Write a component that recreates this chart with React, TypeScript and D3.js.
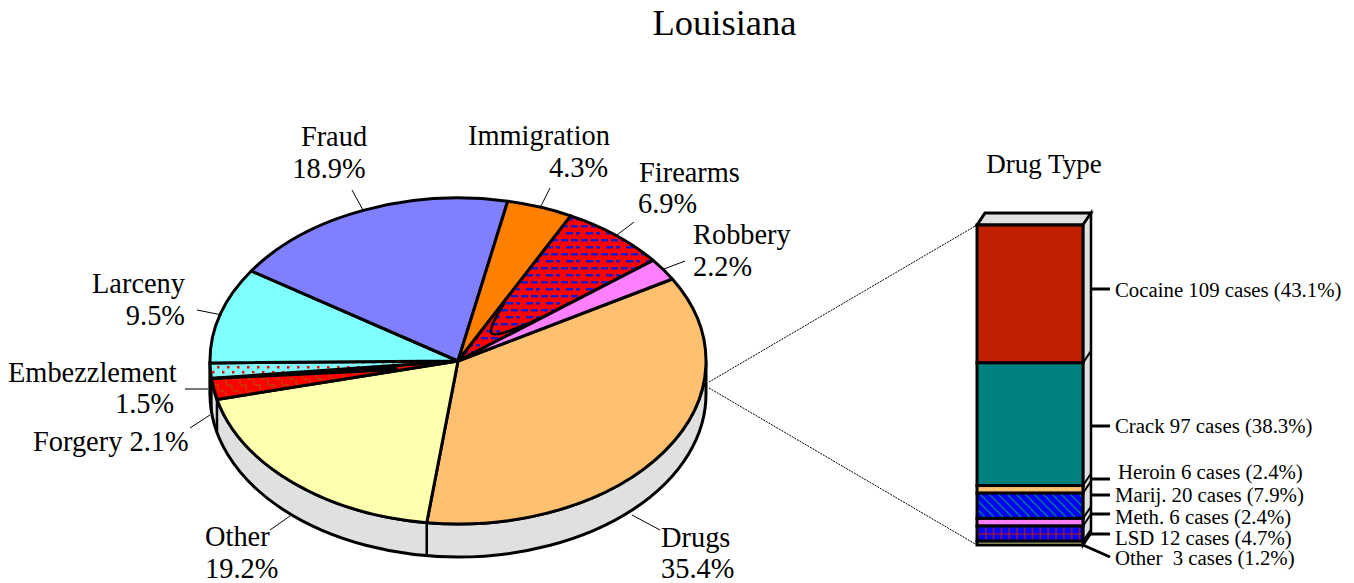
import { useEffect, useRef } from "react"
import * as d3 from "d3"

const offenses = ["Drugs", "Other", "Forgery", "Embezzlement", "Larceny", "Fraud", "Immigration", "Firearms", "Robbery"]
const offensePct = [35.4, 19.2, 2.1, 1.5, 9.5, 18.9, 4.3, 6.9, 2.2]
const offenseFill = ["#ffc06f", "#ffffb0", "url(#brickRed)", "url(#dots)", "#80ffff", "#8080ff", "#ff8000", "url(#brickBlue)", "#ff80ff"]

const drugNames = ["Cocaine", "Crack", "Heroin", "Marij.", "Meth.", "LSD", "Other"]
const drugCases = [109, 97, 6, 20, 6, 12, 3]
const drugPct = ["43.1", "38.3", "2.4", "7.9", "2.4", "4.7", "1.2"]
const drugFill = ["#c02000", "#008080", "#ffc06f", "url(#diag)", "#ff80ff", "url(#grid)", "#ffffb0"]
const drugLabelX = [1115, 1115, 1118, 1115, 1115, 1115, 1115]
const drugLabelY = [297, 433, 479, 502, 524, 545, 565]
const drugLeaderY = [289, 426, 479, 495, 514, 534, 557]

// label text, anchor, x, baseline y
const pieLabels: Array<[string, string, number, number]> = [
  ["Fraud", "middle", 334, 146],
  ["18.9%", "middle", 329, 178],
  ["Immigration", "start", 468, 145],
  ["4.3%", "start", 549, 177],
  ["Firearms", "start", 639, 182],
  ["6.9%", "start", 638, 213],
  ["Robbery", "start", 693, 244],
  ["2.2%", "start", 693, 276],
  ["Larceny", "end", 185, 293],
  ["9.5%", "end", 185, 325],
  ["Embezzlement", "start", 8, 382],
  ["1.5%", "start", 115, 413],
  ["Forgery 2.1%", "start", 33, 451],
  ["Other", "start", 205, 546],
  ["19.2%", "start", 205, 578],
  ["Drugs", "start", 661, 547],
  ["35.4%", "start", 661, 578],
]

const pieLeaders = [
  [363, 210, 352, 190],
  [541, 206, 550, 188],
  [617, 235, 634, 222],
  [664, 269, 685, 261],
  [222, 315, 197, 310],
  [210, 415, 190, 428],
  [290, 516, 270, 530],
  [632, 515, 660, 530],
]

export default function App() {
  const svgRef = useRef<SVGSVGElement>(null)

  useEffect(() => {
    if (!svgRef.current) return

    const width = 1354
    const height = 583
    const cx = 458
    const cy = 361
    const rx = 248
    const ry = 163
    const depth = 33

    const svg = d3.select(svgRef.current).attr("width", width).attr("height", height)
    svg.selectAll("*").remove()

    const defs = svg.append("defs")

    const brickBlue = defs.append("pattern").attr("id", "brickBlue").attr("patternUnits", "userSpaceOnUse").attr("width", 20).attr("height", 14)
    brickBlue.append("rect").attr("width", 20).attr("height", 14).attr("fill", "#ff0000")
    ;[[1, 1], [11, 1], [6, 8], [16, 8]].forEach((p) => {
      brickBlue.append("rect").attr("x", p[0]).attr("y", p[1]).attr("width", 7).attr("height", 2.5).attr("fill", "#1a1ac8")
    })

    const brickRed = defs.append("pattern").attr("id", "brickRed").attr("patternUnits", "userSpaceOnUse").attr("width", 14).attr("height", 12)
    brickRed.append("rect").attr("width", 14).attr("height", 12).attr("fill", "#ff0000")
    brickRed.append("path").attr("d", "M2,1H8V6M9,7H14M2,7V12").attr("fill", "none").attr("stroke", "#c04000").attr("stroke-width", 1.5)

    const dots = defs.append("pattern").attr("id", "dots").attr("patternUnits", "userSpaceOnUse").attr("width", 10).attr("height", 10)
    dots.append("rect").attr("width", 10).attr("height", 10).attr("fill", "#80ffff")
    dots.append("rect").attr("x", 2).attr("y", 1).attr("width", 2.5).attr("height", 2.5).attr("fill", "#ff0000")
    dots.append("rect").attr("x", 7).attr("y", 6).attr("width", 2.5).attr("height", 2.5).attr("fill", "#ff0000")

    const diag = defs.append("pattern").attr("id", "diag").attr("patternUnits", "userSpaceOnUse").attr("width", 9).attr("height", 9)
    diag.append("rect").attr("width", 9).attr("height", 9).attr("fill", "#0000ff")
    diag.append("path").attr("d", "M0,0L9,9M-3,6L3,12M6,-3L12,3").attr("stroke", "#008080").attr("stroke-width", 1.3)

    const grid = defs.append("pattern").attr("id", "grid").attr("patternUnits", "userSpaceOnUse").attr("width", 7.8).attr("height", 9).attr("y", 530)
    grid.append("rect").attr("width", 7.8).attr("height", 9).attr("fill", "#0000ff")
    grid.append("path").attr("d", "M3,0V9M0,4H7.8").attr("stroke", "#c02000").attr("stroke-width", 1.2)

    const font = "'Liberation Serif', 'Times New Roman', serif"

    svg.append("text").attr("x", 724.5).attr("y", 35).attr("text-anchor", "middle").attr("font-family", font).attr("font-size", 36.5).text("Louisiana")

    // pie, clockwise from 12 o'clock. The printed shares add up to 100.2
    const start = (59.8 * Math.PI) / 180
    const pie = d3.pie<number>().sort(null).startAngle(start).endAngle(start + 2 * Math.PI * 1.002)
    const arcs = pie(offensePct)
    const px = (a: number) => cx + rx * Math.sin(a)
    const py = (a: number) => cy - ry * Math.cos(a)

    // side wall
    svg
      .append("path")
      .attr("d", `M${cx + rx},${cy}A${rx},${ry} 0 0 1 ${cx - rx},${cy}V${cy + depth}A${rx},${ry} 0 0 0 ${cx + rx},${cy + depth}Z`)
      .attr("fill", "#e0e0e0")
      .attr("stroke", "black")
      .attr("stroke-width", 3)

    arcs.forEach((d) => {
      const a = d.endAngle % (2 * Math.PI)
      if (a > Math.PI / 2 && a < (3 * Math.PI) / 2) {
        svg.append("line").attr("x1", px(a)).attr("y1", py(a)).attr("x2", px(a)).attr("y2", py(a) + depth).attr("stroke", "black").attr("stroke-width", 2.5)
      }
    })

    svg
      .append("g")
      .selectAll("path")
      .data(arcs)
      .enter()
      .append("path")
      .attr("d", (d) => {
        const large = d.endAngle - d.startAngle > Math.PI ? 1 : 0
        return `M${cx},${cy}L${px(d.startAngle)},${py(d.startAngle)}A${rx},${ry} 0 ${large} 1 ${px(d.endAngle)},${py(d.endAngle)}Z`
      })
      .attr("fill", (d, i) => offenseFill[i])
      .attr("stroke", "black")
      .attr("stroke-width", 3)
      .attr("stroke-linejoin", "round")
      .append("title")
      .text((d, i) => offenses[i])

    // stray callout loops drawn over the thin slices
    const curve = d3.line().curve(d3.curveBasis)
    svg
      .append("path")
      .attr("d", curve([[505, 302], [494, 320], [488, 336], [502, 334], [522, 326], [540, 318]]))
      .attr("fill", "none")
      .attr("stroke", "black")
      .attr("stroke-width", 2.5)
    svg.append("path").attr("d", "M212,379L396,367L397,370Z").attr("fill", "black").attr("stroke", "black").attr("stroke-width", 2)

    svg
      .append("g")
      .selectAll("line")
      .data(pieLeaders)
      .enter()
      .append("line")
      .attr("x1", (d) => d[0])
      .attr("y1", (d) => d[1])
      .attr("x2", (d) => d[2])
      .attr("y2", (d) => d[3])
      .attr("stroke", "black")
      .attr("stroke-width", 1)

    // embezzlement leader comes out grey in the original
    svg.append("line").attr("x1", 208).attr("y1", 389).attr("x2", 185).attr("y2", 389).attr("stroke", "#777").attr("stroke-width", 2)

    svg
      .append("g")
      .selectAll("text")
      .data(pieLabels)
      .enter()
      .append("text")
      .attr("text-anchor", (d) => d[1])
      .attr("x", (d) => d[2])
      .attr("y", (d) => d[3])
      .attr("font-family", font)
      .attr("font-size", 28.4)
      .text((d) => d[0])

    // stacked column
    const barLeft = 977
    const barRight = 1083
    const dx = 8
    const dy = 12
    const total = d3.sum(drugCases)
    const y = d3.scaleLinear().domain([0, total]).range([225, 545])
    const tops = d3.cumsum(drugCases)

    svg
      .append("path")
      .attr("d", `M${barLeft},${y(0)}L${barLeft + dx},${y(0) - dy}H${barRight + dx}L${barRight},${y(0)}Z`)
      .attr("fill", "#e0e0e0")
      .attr("stroke", "black")
      .attr("stroke-width", 3)
    svg
      .append("path")
      .attr("d", `M${barRight},${y(0)}L${barRight + dx},${y(0) - dy}V${y(total) - dy}L${barRight},${y(total)}Z`)
      .attr("fill", "#e0e0e0")
      .attr("stroke", "black")
      .attr("stroke-width", 2.5)

    drugCases.forEach((c, i) => {
      const y0 = y(tops[i] - c)
      const y1 = y(tops[i])
      svg.append("rect").attr("x", barLeft).attr("y", y0).attr("width", barRight - barLeft).attr("height", y1 - y0).attr("fill", drugFill[i]).attr("stroke", "black").attr("stroke-width", 3)
      svg.append("line").attr("x1", barRight).attr("y1", y1).attr("x2", barRight + dx).attr("y2", y1 - dy).attr("stroke", "black").attr("stroke-width", 2)
      const last = i === drugCases.length - 1
      svg
        .append("line")
        .attr("x1", last ? barRight : barRight + dx - 1)
        .attr("y1", last ? y(total) : drugLeaderY[i])
        .attr("x2", 1110)
        .attr("y2", drugLeaderY[i])
        .attr("stroke", "black")
        .attr("stroke-width", 3)
      svg
        .append("text")
        .attr("x", drugLabelX[i])
        .attr("y", drugLabelY[i])
        .attr("font-family", font)
        .attr("font-size", 20.8)
        .style("white-space", "pre")
        .text(`${drugNames[i]}${last ? "  " : " "}${c} cases (${drugPct[i]}%)`)
    })

    svg.append("text").attr("x", 1044).attr("y", 173).attr("text-anchor", "middle").attr("font-family", font).attr("font-size", 27).text("Drug Type")

    // dotted connectors from pie to column
    const connectors = [
      [709, 382, barLeft, y(0)],
      [709, 388, barLeft, y(total)],
    ]
    connectors.forEach((c) => {
      svg.append("line").attr("x1", c[0]).attr("y1", c[1]).attr("x2", c[2]).attr("y2", c[3]).attr("stroke", "black").attr("stroke-width", 1).attr("stroke-dasharray", "2 1")
    })
  }, [])

  return <svg ref={svgRef} style={{ position: "absolute", left: 0, top: 0 }} />
}
